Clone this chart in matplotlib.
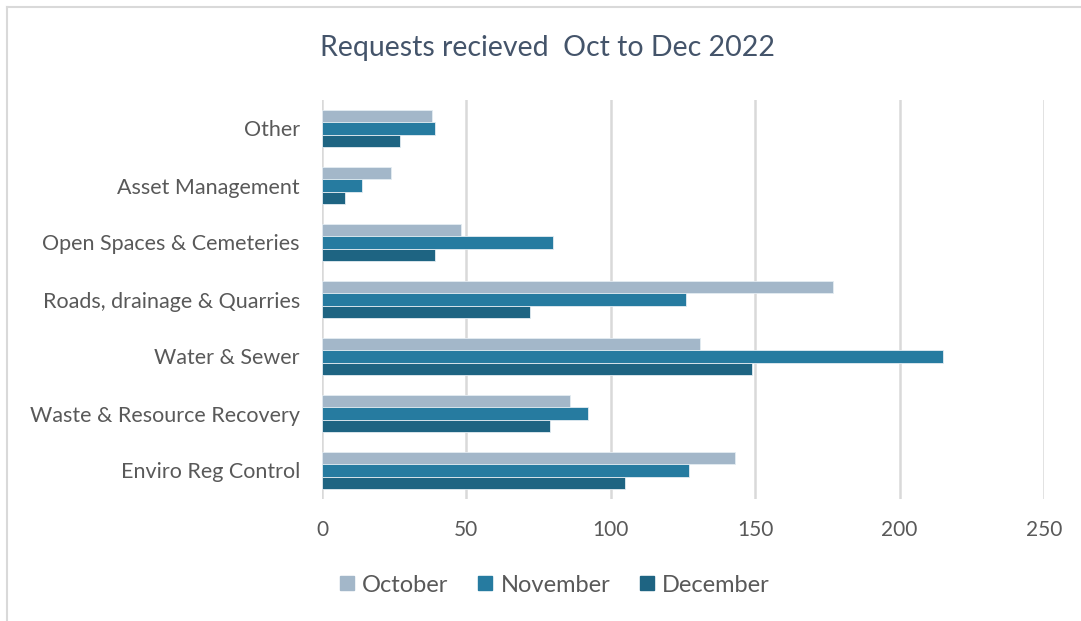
import matplotlib.pyplot as plt
import numpy as np
from matplotlib.lines import Line2D

# Categories listed bottom to top, as drawn on the y axis
categories = ["Enviro Reg Control", "Waste & Resource Recovery", "Water & Sewer",
              "Roads, drainage & Quarries", "Open Spaces & Cemeteries",
              "Asset Management", "Other"]
october = [143, 86, 131, 177, 48, 24, 38]
november = [127, 92, 215, 126, 80, 14, 39]
december = [105, 79, 149, 72, 39, 8, 27]
x_ticks = [0, 50, 100, 150, 200, 250]

series = [("October", october, "#A3B7C9"),
          ("November", november, "#267BA0"),
          ("December", december, "#1E6482")]

plt.rcParams['font.family'] = ['Lato', 'DejaVu Sans']
text_color = "#595959"

fig = plt.figure(figsize=(10.81, 6.21), dpi=100)
ax = fig.add_axes([322 / 1081, 1 - 499 / 621, (1044 - 322) / 1081, 399 / 621])

y = np.arange(len(categories))
bar_h = 0.215
# October on top, December at the bottom of each group
offsets = [bar_h, 0, -bar_h]
for (name, vals, color), off in zip(series, offsets):
    ax.barh(y + off, vals, height=bar_h, color=color, edgecolor="#E4ECF2",
            linewidth=0.6, label=name, zorder=3)

ax.set_xlim(0, 250)
ax.set_ylim(-0.5, len(categories) - 0.5)
ax.set_xticks(x_ticks)
ax.set_yticks(y)
ax.set_yticklabels(categories)
ax.tick_params(axis="both", length=0, colors=text_color)
ax.tick_params(axis="x", pad=15, labelsize=15)
ax.tick_params(axis="y", pad=16, labelsize=15.5)
ax.grid(axis="x", color="#D9D9D9", linewidth=1.8, zorder=0)
ax.set_axisbelow(True)
for s in ax.spines.values():
    s.set_visible(False)

fig.text(547 / 1081, 1 - 48 / 621, "Requests recieved  Oct to Dec 2022",
         ha="center", va="center", fontsize=20.5, color="#44546A")

handles = [Line2D([], [], marker="s", linestyle="none", markersize=10,
                  markerfacecolor=c, markeredgecolor=c) for _, _, c in series]
fig.legend(handles, [n for n, _, _ in series], loc="center",
           bbox_to_anchor=(553 / 1081, 1 - 585 / 621), ncol=3, frameon=False,
           fontsize=17, labelcolor=text_color, handletextpad=0.2,
           columnspacing=1.1, handlelength=0.9)

# chart frame, top and left edges
fig.add_artist(Line2D([7 / 1081, 7 / 1081], [0, 1 - 7 / 621], color="#D9D9D9", linewidth=1.5))
fig.add_artist(Line2D([7 / 1081, 1], [1 - 7 / 621, 1 - 7 / 621], color="#D9D9D9", linewidth=1.5))

fig.savefig("out.png", dpi=100, facecolor="white")
